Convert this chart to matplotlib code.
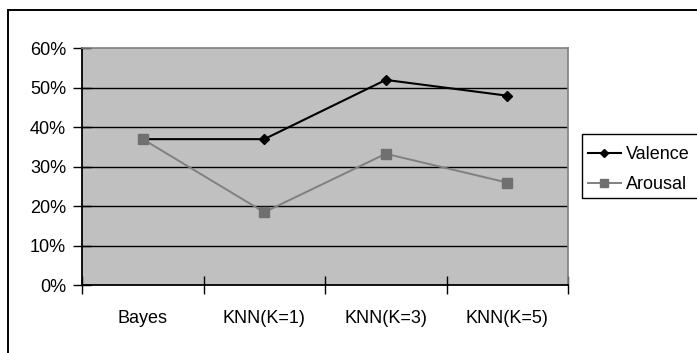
import matplotlib
matplotlib.use("Agg")
import matplotlib.pyplot as plt
from matplotlib.patches import Rectangle
import numpy as np

plt.rcParams['font.family'] = ['Liberation Sans', 'DejaVu Sans']

categories = ["Bayes", "KNN(K=1)", "KNN(K=3)", "KNN(K=5)"]
valence = [0.37, 0.37, 0.52, 0.48]
arousal = [0.37, 0.185, 0.333, 0.26]
yticks = [0.0, 0.1, 0.2, 0.3, 0.4, 0.5, 0.6]
ytick_labels = ["0%", "10%", "20%", "30%", "40%", "50%", "60%"]

W, H = 697, 353
fig = plt.figure(figsize=(W / 100, H / 100), dpi=100)
fig.patch.set_facecolor("white")

# outer chart border
fig.add_artist(Rectangle((8 / W, -0.1), 1.2, (H - 10) / H + 0.1, transform=fig.transFigure,
                         fill=False, edgecolor="black", linewidth=1.4))

ax = fig.add_axes([82 / W, 1 - 285.3 / H, (568 - 82) / W, (285.3 - 48.3) / H])
ax.set_facecolor("#C0C0C0")

x = np.arange(len(categories)) + 0.5
ax.set_xlim(0, len(categories))
ax.set_ylim(0, 0.6)

for yv in yticks[1:-1]:
    ax.axhline(yv, color="black", linewidth=1.0, zorder=1)

ax.plot(x, valence, color="black", linewidth=1.5, marker="D", markersize=5,
        markerfacecolor="black", markeredgecolor="black", label="Valence", zorder=3)
ax.plot(x, arousal, color="#808080", linewidth=1.4, marker="s", markersize=6.5,
        markerfacecolor="#707070", markeredgecolor="#707070", label="Arousal", zorder=3)

ax.set_yticks(yticks)
ax.set_yticklabels(ytick_labels, fontsize=13)
ax.set_xticks(np.arange(len(categories) + 1))
ax.set_xticklabels([])
ax.set_xticks(x, minor=True)
ax.set_xticklabels(categories, minor=True, fontsize=13)
ax.tick_params(axis="x", which="major", direction="inout", length=13, width=1.0, color="black")
ax.tick_params(axis="x", which="minor", length=0, pad=18)
ax.tick_params(axis="y", direction="inout", length=13, width=1.0, color="black", pad=5)

ax.spines["left"].set_color("black")
ax.spines["left"].set_linewidth(1.3)
ax.spines["bottom"].set_color("black")
ax.spines["bottom"].set_linewidth(1.3)
ax.spines["top"].set_color("#808080")
ax.spines["top"].set_linewidth(1.2)
ax.spines["right"].set_color("#808080")
ax.spines["right"].set_linewidth(1.2)

# legend frame (extends past the right edge like the reference)
fig.add_artist(Rectangle((581.7 / W, 1 - 198 / H), 0.3, 64 / H, transform=fig.transFigure,
                         fill=True, facecolor="white", edgecolor="black", linewidth=1.0))
leg = fig.legend(loc="upper left", bbox_to_anchor=(581.7 / W, 1 - 140 / H),
                 fontsize=13, frameon=False, markerscale=0.8,
                 handlelength=1.8, handletextpad=0.3, borderpad=0.35,
                 labelspacing=0.72, borderaxespad=0)

fig.savefig("out.png", dpi=100, facecolor="white")
